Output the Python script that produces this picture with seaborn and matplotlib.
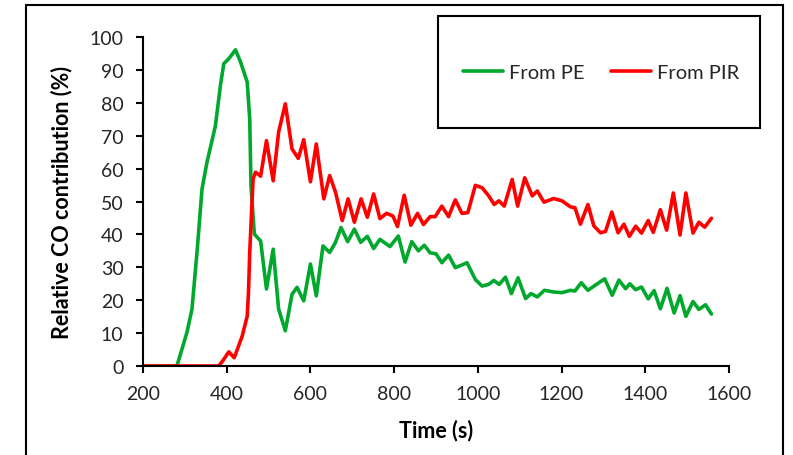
import matplotlib
matplotlib.use("Agg")
import matplotlib.pyplot as plt
import pandas as pd
import seaborn as sns
from matplotlib.lines import Line2D
from matplotlib.patches import Rectangle


# values
PE_TIME = [
    200, 281, 293, 305, 317, 329, 341, 353, 373, 385, 393, 405, 421, 433, 449, 455, 458,
    466, 481, 495, 511, 524, 540, 556, 568, 584, 600, 614, 630, 646, 660, 673, 689,
    705, 720, 736, 751, 766, 790, 810, 826, 842, 858, 872, 886, 900, 914, 930, 946,
    962, 974, 994, 1010, 1026, 1038, 1051, 1066, 1080, 1096, 1114, 1127, 1142, 1159,
    1181, 1201, 1221, 1232, 1247, 1263, 1281, 1303, 1321, 1337, 1353, 1363, 1377,
    1391, 1407, 1421, 1436, 1452, 1469, 1483, 1497, 1514, 1528, 1544, 1558,
]
PE_SHARE = [
    0, 0, 5.1, 10.2, 17.3, 34.5, 53.8, 62, 73, 85.3, 91.9, 93.4, 96.1, 92.4, 86.3, 75, 54.8,
    40.1, 38, 23.4, 35.5, 17.3, 10.7, 21.8, 23.9, 19.8, 31, 21.3, 36.5, 34.5, 37.6, 42.1, 37.8,
    41.6, 37.6, 39.4, 35.7, 38.5, 36.3, 39.5, 31.6, 37.8, 35, 36.7, 34.4, 34.1, 31.4, 33.7, 29.9,
    30.7, 31.4, 26.3, 24.3, 24.8, 26, 24.8, 27, 22, 26.8, 20.5, 22, 21, 23,
    22.5, 22.3, 23, 22.8, 25.3, 23, 24.6, 26.5, 21.5, 26.1, 23.5, 25, 23.2,
    24, 20.4, 22.9, 17.4, 23.6, 16.1, 21.4, 15.1, 19.6, 17.2, 18.6, 15.8,
]
PIR_TIME = [
    200, 381, 393, 405, 418, 437, 449, 452, 455, 463, 469, 481, 495, 511, 524, 540, 556,
    571, 584, 600, 614, 632, 646, 660, 676, 690, 705, 721, 736, 751, 766, 782, 797,
    808, 824, 840, 856, 870, 886, 898, 914, 930, 946, 962, 976, 994, 1010, 1026, 1039,
    1050, 1063, 1082, 1095, 1112, 1130, 1142, 1158, 1181, 1201, 1221, 1232, 1245, 1263,
    1277, 1293, 1305, 1320, 1335, 1349, 1362, 1377, 1391, 1407, 1419, 1436, 1451, 1467,
    1483, 1497, 1514, 1528, 1542, 1558,
]
PIR_SHARE = [
    0, 0, 2, 4.3, 2.5, 9.1, 15.2, 22.3, 34.5, 56.9, 58.9, 57.7, 68.5, 56.3, 71.1, 79.7, 66,
    63.1, 68.8, 56, 67.5, 50.8, 57.9, 52.8, 44.2, 50.8, 43.7, 50.8, 45.2, 52.3, 44.8, 46.4, 45.6,
    42.4, 51.9, 42.8, 46.4, 43, 45.4, 45.4, 48.6, 45.4, 50.5, 46.4, 46.6, 54.9, 54.2, 51.7, 49.1,
    50.2, 48.6, 56.7, 48.6, 57.2, 51.7, 53.2, 49.8, 50.9, 50.2, 48.4, 48.1, 43.1, 49.1,
    42.6, 40.5, 40.9, 46.8, 40.5, 43.1, 39.4, 42.5, 40.4, 44.2, 40.6, 47.5, 41.3, 52.6,
    39.8, 52.6, 40.4, 43.7, 42.2, 44.9,
]
SERIES_NAMES = ["From PE", "From PIR"]
SERIES_COLORS = ["#00A82D", "#FF0000"]
X_TICKS = list(range(200, 1601, 200))
Y_TICKS = list(range(0, 101, 10))

W, H = 793, 456


def build_frame() -> pd.DataFrame:
    pe = pd.DataFrame({"time": PE_TIME, "share": PE_SHARE, "source": SERIES_NAMES[0]})
    pir = pd.DataFrame({"time": PIR_TIME, "share": PIR_SHARE, "source": SERIES_NAMES[1]})
    return pd.concat([pe, pir], ignore_index=True)


def main() -> None:
    sns.set_style("white")
    plt.rcParams["font.family"] = ["Lato", "DejaVu Sans"]

    frame = build_frame()
    palette = dict(zip(SERIES_NAMES, SERIES_COLORS))

    fig = plt.figure(figsize=(W / 100, H / 100), dpi=100)
    ax = fig.add_axes([143 / W, 1 - 367 / H, (729 - 143) / W, (367 - 38) / H])

    sns.lineplot(
        data=frame,
        x="time",
        y="share",
        hue="source",
        palette=palette,
        estimator=None,
        sort=False,
        linewidth=2.6,
        legend=False,
        ax=ax,
    )
    for line in ax.lines:
        line.set_solid_joinstyle("round")
        line.set_solid_capstyle("round")

    ax.set_xlim(200, 1600)
    ax.set_ylim(0, 100)
    ax.set_xticks(X_TICKS)
    ax.set_yticks(Y_TICKS)
    sns.despine(ax=ax)
    for side in ("left", "bottom"):
        ax.spines[side].set_color("black")
        ax.spines[side].set_linewidth(1.5)
    ax.tick_params(
        axis="both", direction="out", length=5, width=1.5, color="black",
        labelsize=14, labelcolor="#262626", pad=9, left=True, bottom=True,
    )

    ax.set_xlabel("Time (s)", fontweight="bold", fontsize=15.5, color="black")
    ax.set_ylabel("Relative CO contribution (%)", fontweight="bold", fontsize=15.5, color="black")
    ax.xaxis.set_label_coords(0.5, -0.16)
    ax.yaxis.set_label_coords(-0.121, 0.5)

    # legend box sits above the top right of the plot area
    fig.add_artist(Rectangle(
        (438 / W, 1 - 129 / H), (760 - 438) / W, (129 - 17) / H,
        transform=fig.transFigure, fill=False, edgecolor="black", linewidth=1.5,
    ))
    handles = [Line2D([], [], color=c, linewidth=2.6) for c in SERIES_COLORS]
    fig.legend(
        handles, SERIES_NAMES, ncol=2, loc="center",
        bbox_to_anchor=(601 / W, 1 - 73 / H), frameon=False,
        handlelength=2.0, handletextpad=0.3, columnspacing=1.3, fontsize=14.5,
    )

    # outer border of the picture (bottom edge falls outside the image)
    fig.add_artist(Rectangle(
        (26 / W, -0.05), (783 - 26) / W, 1.05 - 6 / H,
        transform=fig.transFigure, fill=False, edgecolor="black", linewidth=1.5,
    ))

    fig.savefig("out.png", dpi=100)
    plt.close(fig)


if __name__ == "__main__":
    main()
